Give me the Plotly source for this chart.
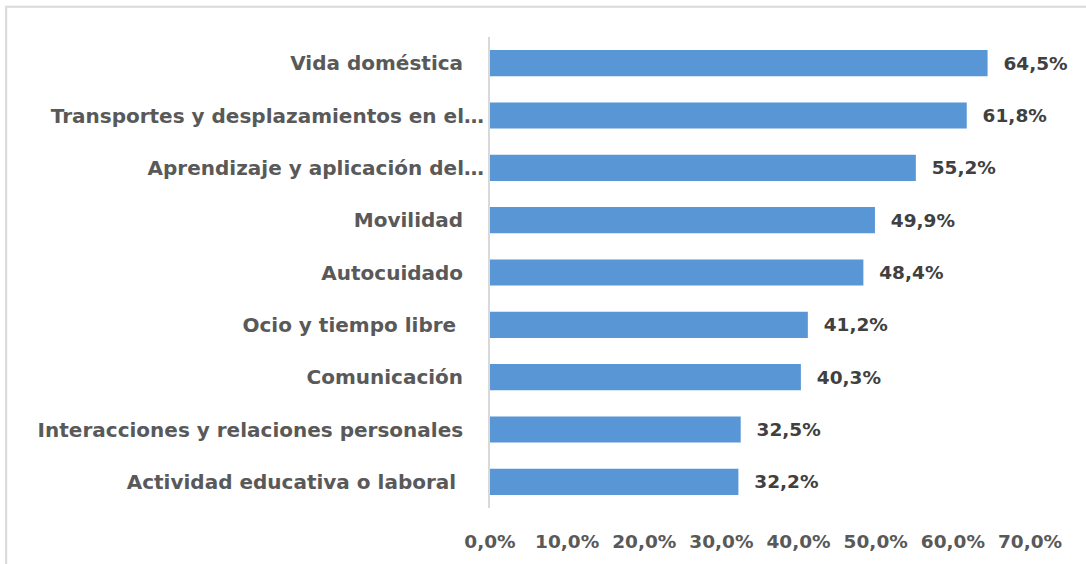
import plotly.graph_objects as go

categories = [
    "Vida doméstica",
    "Transportes y desplazamientos en el…",
    "Aprendizaje y aplicación del…",
    "Movilidad",
    "Autocuidado",
    "Ocio y tiempo libre",
    "Comunicación",
    "Interacciones y relaciones personales",
    "Actividad educativa o laboral",
]
values = [64.5, 61.8, 55.2, 49.9, 48.4, 41.2, 40.3, 32.5, 32.2]
label_pad = [3, 0, 0, 3, 3, 4, 3, 3, 4]  # trailing spaces after each label
x_ticks = [0, 10, 20, 30, 40, 50, 60, 70]

def pct(v):
    return f"{v:.1f}%".replace(".", ",")

ticktext_y = [c + "\u00a0" * p for c, p in zip(categories, label_pad)]

FONT = "DejaVu Sans"

fig = go.Figure()
fig.add_trace(go.Bar(
    y=categories,
    x=values,
    orientation="h",
    marker=dict(color="#5896d6", line=dict(width=0)),
    text=["\u00a0\u00a0" + pct(v) for v in values],
    textposition="outside",
    textfont=dict(family=FONT, size=18.5, color="#404040", weight="bold"),
    cliponaxis=False,
    hoverinfo="skip",
))

fig.update_layout(
    width=1086, height=564,
    margin=dict(l=490, r=56, t=37, b=56),
    paper_bgcolor="white", plot_bgcolor="white",
    bargap=0.5,
    showlegend=False,
    xaxis=dict(
        range=[0, 70],
        tickvals=x_ticks,
        ticktext=[pct(v) for v in x_ticks],
        showgrid=False, zeroline=False, showline=False,
        ticks="outside", ticklen=17, tickcolor="rgba(0,0,0,0)",
        tickfont=dict(family=FONT, size=18.5, color="#595959", weight="bold"),
    ),
    yaxis=dict(
        categoryorder="array", categoryarray=categories,
        autorange="reversed",
        tickvals=categories, ticktext=ticktext_y,
        showgrid=False, zeroline=False,
        showline=True, linecolor="#d9d9d9", linewidth=2,
        ticks="",
        tickfont=dict(family=FONT, size=20, color="#595959", weight="bold"),
    ),
    shapes=[dict(
        type="rect", xref="paper", yref="paper",
        x0=-0.896, x1=1.12, y0=-0.14, y1=1.064,
        line=dict(color="#d9d9d9", width=2), fillcolor="rgba(0,0,0,0)",
        layer="below",
    )],
)

fig.write_html("out.html", config={"displayModeBar": False},
               post_script="document.body.style.margin='0';")
